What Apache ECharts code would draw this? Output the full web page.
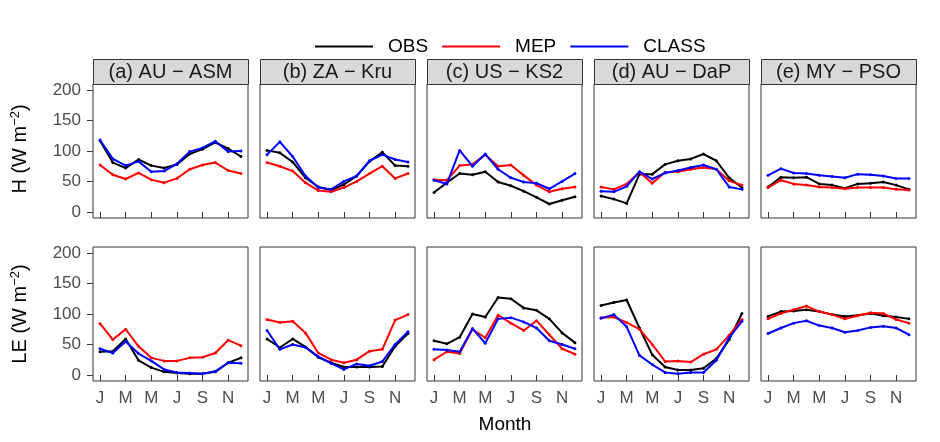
<!DOCTYPE html>
<html>
<head>
<meta charset="utf-8">
<script src="https://cdn.jsdelivr.net/npm/echarts@6/dist/echarts.min.js"></script>
<style>html,body{margin:0;padding:0;background:#fff}#c{width:940px;height:442px}</style>
</head>
<body>
<div id="c"></div>
<script>
// ---- data ----
const months = [1,2,3,4,5,6,7,8,9,10,11,12];
const monthLetters = ['J','F','M','A','M','J','J','A','S','O','N','D'];
const tickMonths = [1,3,5,7,9,11];
const yTicks = [0,50,100,150,200];
const siteLabels = ['(a) AU \u2212 ASM','(b) ZA \u2212 Kru','(c) US \u2212 KS2','(d) AU \u2212 DaP','(e) MY \u2212 PSO'];
const seriesNames = ['OBS','MEP','CLASS'];

// Sensible heat H, one row per site (a..e)
const H_OBS = [
  [117,81,72,86,76,72,78,95,103,114,104,91],
  [101,97,82,56,41,36,45,59,83,98,76,75],
  [32,48,63,61,66,49,43,34,24,13,19,25],
  [26,21,14,62,62,78,84,87,95,84,56,40],
  [41,57,56,57,46,44,39,46,47,49,44,37]
];
const H_MEP = [
  [77,61,54,64,53,48,55,70,77,81,68,63],
  [81,75,67,48,35,33,40,50,63,75,55,63],
  [53,52,76,78,94,75,77,60,44,33,38,41],
  [41,37,46,65,47,65,66,70,73,70,51,44],
  [40,52,46,44,41,40,38,40,40,40,37,36]
];
const H_CLASS = [
  [118,87,76,83,66,67,79,99,105,116,99,100],
  [94,115,91,59,40,37,50,59,84,94,86,82],
  [52,46,101,75,95,70,56,49,47,38,50,63],
  [34,33,42,66,54,64,68,73,77,70,41,37],
  [60,71,64,63,60,58,56,62,61,59,55,55]
];
// Latent heat LE
const LE_OBS = [
  [38,39,59,24,12,5,3,2,2,5,20,28],
  [59,45,59,46,29,20,13,13,13,14,47,68],
  [56,51,62,100,95,127,125,110,106,92,69,53],
  [114,119,123,77,33,13,8,8,11,27,58,101],
  [96,104,105,107,104,99,96,98,101,97,95,92]
];
const LE_MEP = [
  [84,58,75,47,28,23,23,28,29,36,57,48],
  [91,86,88,69,36,25,20,25,39,42,90,99],
  [25,38,35,75,61,98,85,73,89,66,43,34],
  [94,95,86,75,50,22,23,21,34,42,65,91],
  [92,101,107,113,104,99,92,97,102,101,91,85]
];
const LE_CLASS = [
  [43,36,55,35,23,9,4,3,2,6,20,19],
  [73,42,50,45,30,19,9,18,15,22,50,71],
  [42,41,38,76,52,92,94,87,77,56,50,43],
  [93,99,79,32,17,4,2,4,4,24,61,88],
  [68,77,85,89,81,77,70,73,78,80,77,66]
];

// ---- layout ----
const colors = ['#000000','#FF0000','#0000FF'];
const FONT = 'Liberation Sans, Arial, sans-serif';
const colLefts = [93,260,427,594,761];
const panelW = 155;
const rowTops = [84,247];
const panelH = 134;
const stripTop = 59, stripH = 25;

const grids = [], xAxes = [], yAxes = [], series = [];
const rows = [[H_OBS,H_MEP,H_CLASS],[LE_OBS,LE_MEP,LE_CLASS]];
let gi = 0;
for (let r = 0; r < 2; r++) {
  for (let c = 0; c < 5; c++) {
    grids.push({left: colLefts[c], top: rowTops[r], width: panelW, height: panelH,
      show: true, borderColor: '#333333', borderWidth: 1, backgroundColor: '#fff', containLabel: false});
    xAxes.push({type: 'value', gridIndex: gi, min: 0.45, max: 12.55,
      axisLine: {show: false}, splitLine: {show: false},
      axisTick: {show: true, length: 6, lineStyle: {color: '#333333', width: 1}, customValues: tickMonths},
      axisLabel: {show: r === 1, customValues: tickMonths, margin: 9, color: '#4D4D4D', fontSize: 17, fontFamily: FONT,
        formatter: v => monthLetters[Math.round(v) - 1]}
    });
    yAxes.push({type: 'value', gridIndex: gi, min: -10, max: 210,
      axisLine: {show: false}, splitLine: {show: false},
      axisTick: {show: c === 0, length: 6, lineStyle: {color: '#333333', width: 1}, customValues: yTicks},
      axisLabel: {show: c === 0, customValues: yTicks, margin: 12, color: '#4D4D4D', fontSize: 17, fontFamily: FONT}
    });
    for (let s = 0; s < 3; s++) {
      const vals = rows[r][s][c];
      series.push({name: seriesNames[s], type: 'line', xAxisIndex: gi, yAxisIndex: gi,
        data: months.map((m, i) => [m, vals[i]]),
        symbol: 'circle', symbolSize: 3, showSymbol: true,
        itemStyle: {color: colors[s]}, lineStyle: {color: colors[s], width: 2},
        animation: false, silent: true, z: 2 + s});
    }
    gi++;
  }
}

const graphics = [];
for (let c = 0; c < 5; c++) {
  graphics.push({type: 'rect', shape: {x: colLefts[c] + 0.5, y: stripTop + 0.5, width: panelW, height: stripH},
    style: {fill: '#D9D9D9', stroke: '#333333', lineWidth: 1}, silent: true});
  graphics.push({type: 'text', x: colLefts[c] + panelW / 2, y: stripTop + stripH / 2 + 1,
    style: {text: siteLabels[c], fill: '#1A1A1A', font: '20px ' + FONT, textAlign: 'center', textVerticalAlign: 'middle'}, silent: true});
}
const axisTitle = (label, cy) => ({type: 'text', x: 20, y: cy, rotation: Math.PI / 2,
  style: {text: label + ' (W m{sup|\u22122})', fill: '#000', font: '20px ' + FONT, textAlign: 'center', textVerticalAlign: 'middle',
    rich: {sup: {fontSize: 13, fontFamily: FONT, verticalAlign: 'top', padding: [0,0,10,0], fill: '#000'}}}, silent: true});
graphics.push(axisTitle('H', rowTops[0] + panelH / 2 - 2));
graphics.push(axisTitle('LE', rowTops[1] + panelH / 2));
graphics.push({type: 'text', x: 505, y: 425, style: {text: 'Month', fill: '#000', font: '19px ' + FONT, textAlign: 'center', textVerticalAlign: 'middle'}, silent: true});

const chart = echarts.init(document.getElementById('c'), null, {renderer: 'canvas'});
chart.setOption({
  animation: false,
  backgroundColor: '#ffffff',
  legend: {data: seriesNames, left: 310, top: 32, itemWidth: 58, itemHeight: 2, icon: 'rect', itemGap: 14,
    textStyle: {fontSize: 19, fontFamily: FONT, color: '#000', padding: [0,0,0,10]}},
  grid: grids, xAxis: xAxes, yAxis: yAxes, series: series, graphic: graphics
});
</script>
</body>
</html>
